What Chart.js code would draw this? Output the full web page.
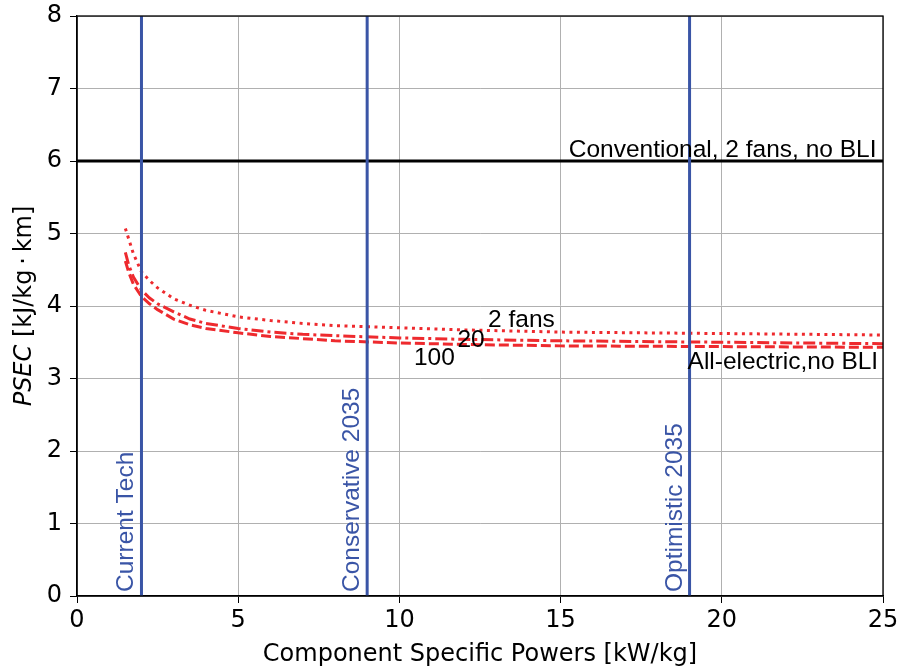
<!DOCTYPE html>
<html lang="en">
<head>
  <meta charset="UTF-8">
  <title>PSEC vs component specific powers</title>
  <script src="https://cdn.jsdelivr.net/npm/chart.js"></script>
  <style>
    html, body { margin: 0; padding: 0; background: #fff; }
    #wrap { width: 899px; height: 669px; }
  </style>
</head>
<body>
  <div id="wrap"><canvas id="psecChart" width="899" height="669"></canvas></div>

  <script>
    // data
    const specificPower = [1.5, 1.6, 1.75, 2, 2.25, 2.5, 3, 3.5, 4, 5, 6, 7, 8, 10, 12, 15, 20, 25];
    const psec2Fans     = [5.07, 4.93, 4.72, 4.47, 4.35, 4.25, 4.10, 4.01, 3.94, 3.85, 3.80, 3.76, 3.73, 3.70, 3.67, 3.64, 3.62, 3.60];
    const psec20Fans    = [4.74, 4.57, 4.40, 4.22, 4.11, 4.03, 3.92, 3.82, 3.76, 3.69, 3.64, 3.61, 3.59, 3.56, 3.54, 3.52, 3.50, 3.48];
    const psec100Fans   = [4.62, 4.47, 4.30, 4.13, 4.03, 3.95, 3.82, 3.74, 3.69, 3.63, 3.58, 3.55, 3.52, 3.49, 3.47, 3.45, 3.44, 3.43];
    const conventionalPsec = 6;
    const techLevels = [2, 9, 19];
    const techNames = ['Current Tech', 'Conservative 2035', 'Optimistic 2035'];
    const xTicks = [0, 5, 10, 15, 20, 25];
    const yTicks = [0, 1, 2, 3, 4, 5, 6, 7, 8];

    const RED = '#ee2a2e';
    const BLUE = '#3a55a6';
    const TICK_FONT = { family: 'DejaVu Sans', size: 24 };
    const NOTE_FONT = '24.5px "Liberation Sans", Arial, sans-serif';

    const pts = (xs, ys) => xs.map((x, i) => ({ x, y: ys[i] }));

    const curve = (data, dash) => ({
      data, borderColor: RED, borderWidth: 3, borderDash: dash,
      pointRadius: 0, showLine: true, fill: false, tension: 0
    });

    const datasets = [
      ...techLevels.map(v => ({
        data: [{ x: v, y: 0 }, { x: v, y: 8 }],
        borderColor: BLUE, borderWidth: 3, pointRadius: 0, showLine: true
      })),
      {
        data: [{ x: 0, y: conventionalPsec }, { x: 25, y: conventionalPsec }],
        borderColor: '#000', borderWidth: 3, pointRadius: 0, showLine: true
      },
      curve(pts(specificPower, psec2Fans), [3, 4.5]),
      curve(pts(specificPower, psec20Fans), [12, 4, 3, 4]),
      curve(pts(specificPower, psec100Fans), [10, 4])
    ];

    // frame, annotations and y title
    const decorations = {
      id: 'decorations',
      afterDatasetsDraw(chart) {
        const { ctx, chartArea: a, scales: { x, y } } = chart;
        ctx.save();
        ctx.strokeStyle = '#000';
        ctx.lineWidth = 1.3;
        ctx.strokeRect(a.left, a.top, a.right - a.left, a.bottom - a.top);

        ctx.fillStyle = '#000';
        ctx.font = NOTE_FONT;
        ctx.textBaseline = 'alphabetic';
        ctx.textAlign = 'right';
        ctx.fillText('Conventional, 2 fans, no BLI', x.getPixelForValue(24.8), y.getPixelForValue(conventionalPsec) - 4);
        ctx.fillText('All-electric,no BLI', x.getPixelForValue(24.85), y.getPixelForValue(3.13));
        ctx.textAlign = 'left';
        ctx.fillText('2 fans', x.getPixelForValue(12.75), y.getPixelForValue(3.71));
        ctx.fillText('20', x.getPixelForValue(11.8), y.getPixelForValue(3.43));
        ctx.fillText('100', x.getPixelForValue(10.45), y.getPixelForValue(3.18));

        ctx.fillStyle = BLUE;
        techLevels.forEach((v, i) => {
          ctx.save();
          ctx.translate(x.getPixelForValue(v) - 8, y.getPixelForValue(0) - 4);
          ctx.rotate(-Math.PI / 2);
          ctx.fillText(techNames[i], 0, 0);
          ctx.restore();
        });

        // y title: italic PSEC then units
        ctx.fillStyle = '#000';
        const italic = 'italic 24px "DejaVu Sans"';
        const normal = '24px "DejaVu Sans"';
        const part1 = 'PSEC', part2 = ' [kJ/kg\u2009\u00b7\u2009km]';
        ctx.font = italic; const w1 = ctx.measureText(part1).width;
        ctx.font = normal; const w2 = ctx.measureText(part2).width;
        ctx.translate(31, (a.top + a.bottom) / 2);
        ctx.rotate(-Math.PI / 2);
        ctx.textAlign = 'left';
        ctx.font = italic; ctx.fillText(part1, -(w1 + w2) / 2, 0);
        ctx.font = normal; ctx.fillText(part2, -(w1 + w2) / 2 + w1, 0);
        ctx.restore();
      }
    };

    new Chart(document.getElementById('psecChart'), {
      type: 'scatter',
      data: { datasets },
      options: {
        responsive: false,
        animation: false,
        layout: { padding: { top: 16, right: 16, left: 0, bottom: 0 } },
        plugins: { legend: { display: false }, tooltip: { enabled: false } },
        scales: {
          x: {
            type: 'linear', min: 0, max: 25,
            afterBuildTicks: s => { s.ticks = xTicks.map(v => ({ value: v })); },
            afterFit: s => { s.height = 73; s.paddingLeft = 0; s.paddingRight = 0; },
            grid: { color: '#b0b0b0', lineWidth: 1, tickColor: '#000', tickLength: 7 },
            border: { color: '#000', width: 1.3 },
            ticks: { color: '#000', font: TICK_FONT, padding: 3, maxRotation: 0 },
            title: {
              display: true, text: 'Component Specific Powers [kW/kg]',
              color: '#000', font: TICK_FONT, padding: { top: 0, bottom: 0 }
            }
          },
          y: {
            type: 'linear', min: 0, max: 8,
            afterBuildTicks: s => { s.ticks = yTicks.map(v => ({ value: v })); },
            afterFit: s => { s.width = 77; s.paddingTop = 0; s.paddingBottom = 0; },
            grid: { color: '#b0b0b0', lineWidth: 1, tickColor: '#000', tickLength: 7 },
            border: { color: '#000', width: 1.3 },
            ticks: { color: '#000', font: TICK_FONT, padding: 8 }
          }
        }
      },
      plugins: [decorations]
    });
  </script>
</body>
</html>
